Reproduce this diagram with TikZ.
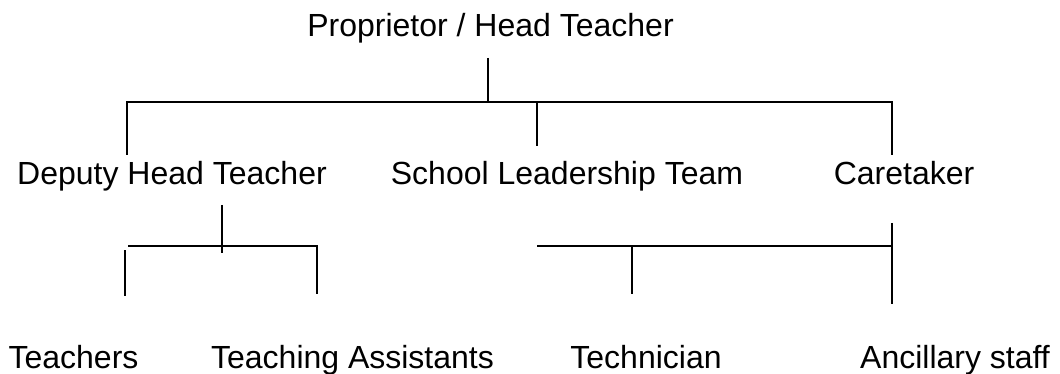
\documentclass[tikz,border=0pt]{standalone}
\usepackage{fontspec}
\setmainfont{Liberation Sans}
\usepackage{tikz}

\begin{document}
\begin{tikzpicture}[x=1pt, y=-1pt,
  role/.style={inner sep=0pt, anchor=base, font=\fontsize{32pt}{38pt}\selectfont},
  link/.style={line width=1.2pt}]

\useasboundingbox (0,0) rectangle (1060,374);

% job titles
\node [role] (head) at (490.5,37) {Proprietor / Head Teacher};
\node [role] (deputy) at (172,185) {Deputy Head Teacher};
\node [role] (slt) at (567,185) {School Leadership Team};
\node [role] (caretaker) at (904,185) {Caretaker};
\node [role] (teachers) at (73.5,368) {Teachers};
\node [role] (assistants) at (352.5,368) {Teaching Assistants};
\node [role] (technician) at (646,368) {Technician};
\node [role] (ancillary) at (955,368) {Ancillary staff};

% upper tree
\coordinate (headfoot) at (488,58);
\coordinate (bar) at (488,102);
\coordinate (deputytop) at (127,155);
\coordinate (slttop) at (537,146);
\coordinate (caretakertop) at (892,155);

\draw [link] (headfoot) -- (bar);
\draw [link] (deputytop) |- (caretakertop |- bar) -- (caretakertop);
\draw [link] (slttop) -- (slttop |- bar);

% deputy's branch
\coordinate (deputyfoot) at (222,205);
\coordinate (deputyend) at (222,253);
\coordinate (lbarL) at (128,246);
\coordinate (lbarR) at (317,246);
\coordinate (teacherstop) at (125,250);
\coordinate (teachersend) at (125,296);
\coordinate (assistantsend) at (317,294);

\draw [link] (deputyfoot) -- (deputyend);
\draw [link] (lbarL) -- (lbarR) -- (assistantsend);
\draw [link] (teacherstop) -- (teachersend);

% caretaker's branch
\coordinate (rbarL) at (537,246);
\coordinate (caretakerfoot) at (892,223);
\coordinate (ancillaryend) at (892,304);
\coordinate (technicianend) at (632,294);

\draw [link] (caretakerfoot) -- (ancillaryend);
\draw [link] (rbarL) -- (rbarL -| caretakerfoot);
\draw [link] (technicianend |- rbarL) -- (technicianend);

\end{tikzpicture}
\end{document}
